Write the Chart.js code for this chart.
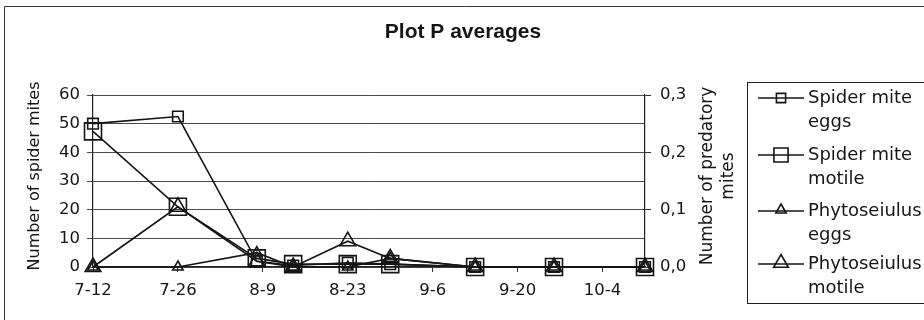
<!DOCTYPE html>
<html>
<head>
<meta charset="utf-8">
<script src="https://cdn.jsdelivr.net/npm/chart.js@4.4.1/dist/chart.umd.min.js"></script>
<style>
  html, body { margin: 0; padding: 0; background: #fff; }
  #wrap { width: 924px; height: 320px; position: relative; }
</style>
</head>
<body>
<div id="wrap"><canvas id="c" width="924" height="320"></canvas></div>
<script>
// Sampling dates (month-day) and the season axis
const sampleDates = ['7-12', '7-26', '8-8', '8-14', '8-23', '8-30', '9-13', '9-26', '10-11'];
const tickLabels = ['7-12', '7-26', '8-9', '8-23', '9-6', '9-20', '10-4'];
const axisStart = '7-12';
const axisEnd = '10-11';

// Averages per sampling date
const spiderMiteEggs     = [50, 52.5, 2, 0.5, 1.5, 1, 0, 0, 0];
const spiderMiteMotile   = [47.3, 21, 3, 1, 1, 1, 0, 0, 0];
const phytoseiulusEggs   = [0, 0, 0.025, 0, 0, 0.015, 0, 0, 0];
const phytoseiulusMotile = [0, 0.105, 0.01, 0, 0.045, 0.015, 0, 0, 0];

const seriesNames = [
  ['Spider mite', 'eggs'],
  ['Spider mite', 'motile'],
  ['Phytoseiulus', 'eggs'],
  ['Phytoseiulus', 'motile']
];
const leftTicks = [0, 10, 20, 30, 40, 50, 60];
const rightTicks = [0, 0.1, 0.2, 0.3];
const chartTitle = 'Plot P averages';

const FONT = '"DejaVu Sans", Verdana, sans-serif';
const INK = '#151515';

// days elapsed since the first sampling date
function dayOf(md) {
  const [m, d] = md.split('-').map(Number);
  const [m0, d0] = axisStart.split('-').map(Number);
  return (Date.UTC(2001, m - 1, d) - Date.UTC(2001, m0 - 1, d0)) / 86400000;
}

function points(values) {
  return sampleDates.map((d, i) => ({ x: dayOf(d), y: values[i] }));
}

function series(name, values, axis, style, radius) {
  return {
    label: name.join(' '),
    data: points(values),
    yAxisID: axis,
    borderColor: INK,
    borderWidth: 1.6,
    pointStyle: style,
    pointRadius: radius,
    pointBorderWidth: 1.6,
    pointBorderColor: INK,
    pointBackgroundColor: 'rgba(0,0,0,0)',
    tension: 0,
    fill: false,
    clip: false
  };
}

const datasets = [
  series(seriesNames[0], spiderMiteEggs, 'y', 'rect', 7.5),
  series(seriesNames[1], spiderMiteMotile, 'y', 'rect', 12),
  series(seriesNames[2], phytoseiulusEggs, 'y2', 'triangle', 6),
  series(seriesNames[3], phytoseiulusMotile, 'y2', 'triangle', 9)
];

function drawMarker(ctx, style, r, x, y) {
  ctx.beginPath();
  if (style === 'rect') {
    const s = Math.SQRT1_2 * r;
    ctx.rect(x - s, y - s, 2 * s, 2 * s);
  } else {
    for (let k = 0; k < 3; k++) {
      const t = -Math.PI / 2 + k * 2 * Math.PI / 3;
      const px = x + Math.cos(t) * r, py = y + Math.sin(t) * r;
      if (k === 0) ctx.moveTo(px, py); else ctx.lineTo(px, py);
    }
    ctx.closePath();
  }
  ctx.stroke();
}

// frame, title, axis titles and the two-line legend
const decorations = {
  id: 'decorations',
  afterDraw(chart) {
    const ctx = chart.ctx;
    const area = chart.chartArea;
    ctx.save();

    ctx.strokeStyle = '#333';
    ctx.lineWidth = 1;
    ctx.beginPath();
    ctx.moveTo(4.5, 330); ctx.lineTo(4.5, 6.5); ctx.lineTo(930, 6.5);
    ctx.stroke();

    ctx.fillStyle = INK;
    ctx.textAlign = 'center';
    ctx.textBaseline = 'middle';
    ctx.font = 'bold 21px "Liberation Sans", Arial, sans-serif';
    ctx.fillText(chartTitle, 463, 32);

    const midY = (area.top + area.bottom) / 2 - 5;

    ctx.save();
    ctx.translate(35, midY);
    ctx.rotate(-Math.PI / 2);
    ctx.font = '16px ' + FONT;
    ctx.fillText('Number of spider mites', 0, 0);
    ctx.restore();

    ctx.save();
    ctx.translate(708, midY);
    ctx.rotate(-Math.PI / 2);
    ctx.font = '17px ' + FONT;
    ctx.fillText('Number of predatory', 0, 0);
    ctx.fillText('mites', 0, 21);
    ctx.restore();

    // legend box
    const box = { left: 747, top: 82, right: 930, bottom: 303 };
    ctx.strokeStyle = '#222';
    ctx.lineWidth = 1;
    ctx.strokeRect(box.left + 0.5, box.top + 0.5, box.right - box.left, box.bottom - box.top);

    const rowY = [98, 155, 211, 264];
    const legendRadius = [6.5, 10, 6, 8.5];
    ctx.font = '18px ' + FONT;
    ctx.textAlign = 'left';
    chart.data.datasets.forEach((ds, i) => {
      const y = rowY[i];
      ctx.strokeStyle = ds.borderColor;
      ctx.lineWidth = 1.6;
      ctx.beginPath();
      ctx.moveTo(758, y); ctx.lineTo(804, y);
      ctx.stroke();
      drawMarker(ctx, ds.pointStyle, legendRadius[i], 781, i >= 2 ? y - 1 : y);
      ctx.fillStyle = INK;
      seriesNames[i].forEach((line, j) => {
        ctx.fillText(line, 808, y + j * 24);
      });
    });
    ctx.restore();
  }
};

const tickFont = { family: FONT, size: 16.5 };

new Chart(document.getElementById('c'), {
  type: 'line',
  data: { datasets },
  options: {
    responsive: false,
    animation: false,
    events: [],
    layout: { padding: { left: 0, right: 179, top: 95, bottom: 0 } },
    plugins: {
      legend: { display: false },
      tooltip: { enabled: false },
      title: { display: false }
    },
    scales: {
      x: {
        type: 'linear',
        min: 0,
        max: dayOf(axisEnd),
        afterBuildTicks: s => { s.ticks = tickLabels.map(t => ({ value: dayOf(t) })); },
        afterFit: s => { s.height = 53; },
        ticks: {
          autoSkip: false,
          maxRotation: 0,
          padding: 9,
          color: INK,
          font: tickFont,
          callback: v => tickLabels.find(t => dayOf(t) === v) || ''
        },
        grid: { drawOnChartArea: false, drawTicks: true, tickLength: 5, color: '#333' },
        border: { color: '#222', width: 1.2 }
      },
      y: {
        position: 'left',
        min: 0,
        max: 60,
        afterBuildTicks: s => { s.ticks = leftTicks.map(v => ({ value: v })); },
        afterFit: s => { s.width = 93; },
        ticks: { padding: 7, color: INK, font: tickFont },
        grid: { color: '#4a4a4a', lineWidth: 1, tickLength: 6 },
        border: { color: '#222', width: 1.2 }
      },
      y2: {
        position: 'right',
        min: 0,
        max: 0.3,
        afterBuildTicks: s => { s.ticks = rightTicks.map(v => ({ value: v })); },
        afterFit: s => { s.width = 100; },
        ticks: {
          padding: 9,
          color: INK,
          font: tickFont,
          callback: v => v.toFixed(1).replace('.', ',')
        },
        grid: { drawOnChartArea: false, tickLength: 6, color: '#333' },
        border: { color: '#222', width: 1.2 }
      }
    }
  },
  plugins: [decorations]
});
</script>
</body>
</html>
